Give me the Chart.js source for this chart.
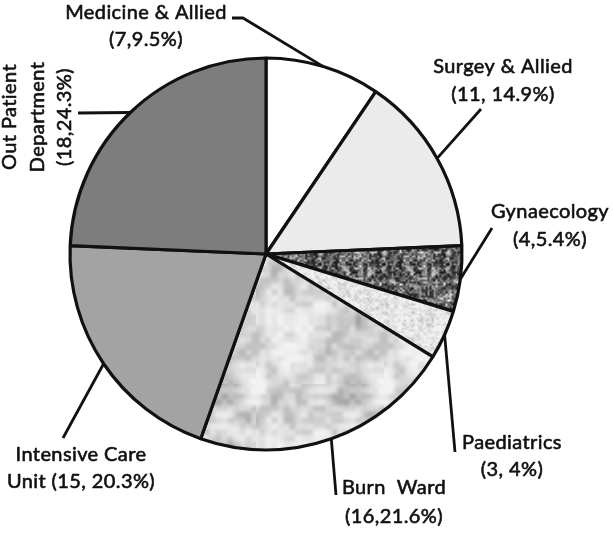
<!DOCTYPE html>
<html><head><meta charset="utf-8">
<script src="https://cdn.jsdelivr.net/npm/chart.js@4"></script>
<style>html,body{margin:0;padding:0;background:#fff}#wrap{width:613px;height:533px;position:relative}</style>
</head><body><div id="wrap"><canvas id="c" width="613" height="533"></canvas></div>
<script>
// ---- data ----
const categories = ["Medicine & Allied","Surgey & Allied","Gynaecology","Paediatrics","Burn  Ward","Intensive Care Unit","Out Patient Department"];
const counts = [7, 11, 4, 3, 16, 15, 18];
const percents = ["9.5%", "14.9%", "5.4%", "4%", "21.6%", "20.3%", "24.3%"];
const labelTexts = [
  ["Medicine & Allied", "(7,9.5%)"],
  ["Surgey & Allied", "(11, 14.9%)"],
  ["Gynaecology", "(4,5.4%)"],
  ["Paediatrics", "(3, 4%)"],
  ["Burn  Ward", "(16,21.6%)"],
  ["Intensive Care", "Unit (15, 20.3%)"],
  ["Out Patient", "Department", "(18,24.3%)"]
];

// ---- layout (positions / styles) ----
const labelLayout = [
  {x:146, y:13, dy:27, rot:0, lead:[[243,18],[232,18]]},
  {x:503, y:67, dy:28, rot:0, lead:[[481,109]]},
  {x:550, y:212, dy:28, rot:0, lead:[[492,228]]},
  {x:512, y:443, dy:27, rot:0, lead:[[455,452]]},
  {x:394, y:488, dy:29, rot:0, lead:[[336,495]]},
  {x:81,  y:455, dy:27, rot:0, lead:[[63,438]]},
  {x:10,  y:117, dy:27.5, rot:-Math.PI/2, lead:[[78,113]]}
];

// ---- textures (deterministic hash noise, styling only) ----
function hash(x, y, s) {
  let h = (Math.imul(x, 374761393) + Math.imul(y, 668265263) + Math.imul(s, 982451653)) | 0;
  h = Math.imul(h ^ (h >>> 13), 1274126177);
  h = h ^ (h >>> 16);
  return (h >>> 0) / 4294967295;
}
function vnoise(x, y, cell, period, s) {
  const gx = x / cell, gy = y / cell;
  const x0 = Math.floor(gx), y0 = Math.floor(gy);
  const fx = gx - x0, fy = gy - y0;
  const sx = fx * fx * (3 - 2 * fx), sy = fy * fy * (3 - 2 * fy);
  const p = period / cell;
  const v = (a, b) => hash(((a % p) + p) % p, ((b % p) + p) % p, s);
  const a = v(x0, y0), b = v(x0 + 1, y0), c = v(x0, y0 + 1), d = v(x0 + 1, y0 + 1);
  return a + (b - a) * sx + (c - a) * sy + (a - b - c + d) * sx * sy;
}
function makePattern(size, fn) {
  const cv = document.createElement('canvas');
  cv.width = size; cv.height = size;
  const cx = cv.getContext('2d');
  const img = cx.createImageData(size, size);
  for (let y = 0; y < size; y++) for (let x = 0; x < size; x++) {
    let g = Math.max(0, Math.min(255, Math.round(fn(x, y))));
    const i = (y * size + x) * 4;
    img.data[i] = img.data[i + 1] = img.data[i + 2] = g; img.data[i + 3] = 255;
  }
  cx.putImageData(img, 0, 0);
  return document.getElementById('c').getContext('2d').createPattern(cv, 'repeat');
}
const gynPattern = makePattern(64, (x, y) => {
  const n = 0.5 * vnoise(x, y, 2, 64, 1) + 0.35 * vnoise(x, y, 4, 64, 2) + 0.15 * vnoise(x, y, 8, 64, 3);
  return 230 * Math.pow(n, 1.7) * 1.2 + 15;
});
const paedPattern = makePattern(64, (x, y) => {
  const n = 0.6 * vnoise(x, y, 2, 64, 4) + 0.4 * vnoise(x, y, 4, 64, 5);
  return 246 - 60 * Math.pow(n, 1.8);
});
const burnPattern = makePattern(128, (x, y) => {
  const n = 0.45 * vnoise(x, y, 32, 128, 6) + 0.3 * vnoise(x, y, 16, 128, 7) + 0.25 * vnoise(x, y, 6, 128, 8);
  return 242 - 125 * Math.pow(Math.max(0, n - 0.2) / 0.8, 1.5);
});

const fills = ["#ffffff", "#ebebeb", gynPattern, paedPattern, burnPattern, "#a3a3a3", "#7d7d7d"];

const FONT = '20px Lato, "Open Sans", sans-serif';

const labelPlugin = {
  id: 'leaderLabels',
  afterDatasetsDraw(chart) {
    const ctx = chart.ctx;
    const arcs = chart.getDatasetMeta(0).data;
    ctx.save();
    ctx.strokeStyle = '#111';
    ctx.lineWidth = 2.8;
    ctx.lineJoin = 'round';
    arcs.forEach((arc, i) => {
      const p = arc.getProps(['x', 'y', 'startAngle', 'endAngle', 'outerRadius'], true);
      const mid = (p.startAngle + p.endAngle) / 2;
      const sx = p.x + Math.cos(mid) * p.outerRadius;
      const sy = p.y + Math.sin(mid) * p.outerRadius;
      ctx.beginPath();
      ctx.moveTo(sx, sy);
      labelLayout[i].lead.forEach(pt => ctx.lineTo(pt[0], pt[1]));
      ctx.stroke();
    });
    ctx.fillStyle = '#111';
    ctx.strokeStyle = '#111';
    ctx.lineWidth = 0.6;
    ctx.font = FONT;
    try { ctx.letterSpacing = '0.4px'; } catch (e) {}
    ctx.textAlign = 'center';
    ctx.textBaseline = 'middle';
    labelTexts.forEach((lines, i) => {
      const L = labelLayout[i];
      ctx.save();
      if (L.rot) {
        ctx.translate(L.x, L.y);
        ctx.rotate(L.rot);
        lines.forEach((t, k) => { ctx.fillText(t, 0, k * L.dy); ctx.strokeText(t, 0, k * L.dy); });
      } else {
        lines.forEach((t, k) => { ctx.fillText(t, L.x, L.y + k * L.dy); ctx.strokeText(t, L.x, L.y + k * L.dy); });
      }
      ctx.restore();
    });
    ctx.restore();
  }
};

new Chart(document.getElementById('c'), {
  type: 'pie',
  data: {
    labels: categories,
    datasets: [{
      data: counts,
      backgroundColor: fills,
      borderColor: '#111',
      borderWidth: 3.2,
      radius: 196
    }]
  },
  options: {
    responsive: false,
    animation: false,
    layout: { padding: { left: 66, right: 147, top: 54, bottom: 79 } },
    plugins: { legend: { display: false }, tooltip: { enabled: false } }
  },
  plugins: [labelPlugin]
});
</script>
</body></html>
